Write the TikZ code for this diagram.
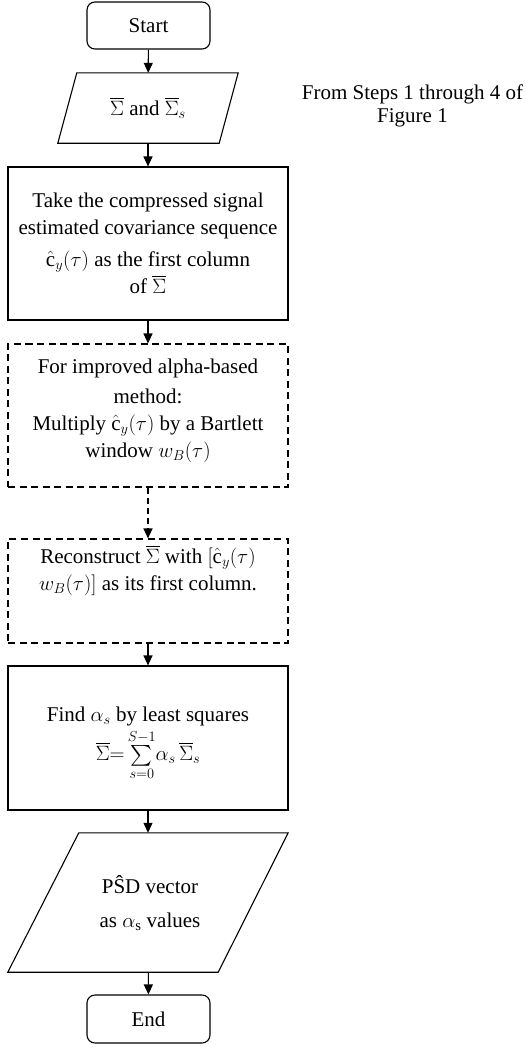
\documentclass[tikz,border=0pt]{standalone}
\usepackage{amsmath}
\usepackage{fontspec}
\setmainfont{Liberation Serif}
\usetikzlibrary{arrows.meta}

\tikzset{
  line/.style={line width=1.1pt},
  term/.style={line, draw, rounded corners=8pt, minimum width=123pt,
    minimum height=47pt, inner sep=0pt},
  procbox/.style={line, draw, minimum width=280pt, inner sep=0pt, align=center},
  dashbox/.style={procbox, dash pattern=on 7pt off 4.5pt},
  iobox/.style={minimum width=#1, inner sep=0pt, align=center},
  flow/.style={line, -{Triangle[length=10pt,width=9pt]}},
  txt/.style={align=center, inner sep=0pt}
}

\begin{document}
\begin{tikzpicture}[x=1pt, y=-1pt,
  every node/.style={font=\fontsize{21}{27}\selectfont}]
  \useasboundingbox (0,0) rectangle (525,1047);

  % terminals
  \node[term] (start) at (148.5,25.5) {Start};
  \node[term, minimum height=48pt] (end) at (148.5,1019) {End};

  % input data
  \node[iobox=180pt, minimum height=70pt] (in) at (148,108)
    {$\overline{\Sigma}$ and $\overline{\Sigma}_s$};
  \draw[line] ([xshift=19pt]in.north west) -- (in.north east)
    -- ([xshift=-19pt]in.south east) -- (in.south west) -- cycle;

  \node[txt, font=\fontsize{21}{23}\selectfont] (note) at (412.5,106)
    {From Steps 1 through 4 of\\Figure 1};

  % covariance column
  \node[procbox, minimum height=153pt] (cov) at (148,243.5)
    {Take the compressed signal\\
     estimated covariance sequence\\[5pt]
     $\hat{\mathrm{c}}_y(\tau)$ as the first column\\
     of $\overline{\Sigma}$};

  % optional windowing
  \node[dashbox, minimum height=143pt] (win) at (148,415.5) {};
  \node[txt] (wintext) at (148,411)
    {For improved alpha-based\\[3pt]
     method:\\
     Multiply $\hat{\mathrm{c}}_y(\tau)$ by a Bartlett\\
     window $w_B(\tau)$};

  \node[dashbox, minimum height=104pt] (rec) at (148,591) {};
  \node[txt] (rectext) at (148,570)
    {Reconstruct $\overline{\Sigma}$ with $[\hat{\mathrm{c}}_y(\tau)$\\
     $w_B(\tau)]$ as its first column.};

  % least squares fit
  \node[procbox, minimum height=144pt] (fit) at (148,738) {};
  \node[txt] (fittext) at (148,744)
    {Find $\alpha_s$ by least squares\\[2pt]
     $\overline{\Sigma}{=}\sum\limits_{s=0}^{S-1}\!\alpha_s\,\overline{\Sigma}_s$};

  % output
  \node[iobox=280pt, minimum height=139pt] (out) at (148,902.5) {};
  \draw[line] ([xshift=71pt]out.north west) -- (out.north east)
    -- ([xshift=-70pt]out.south east) -- (out.south west) -- cycle;
  \node[txt] (outtext) at (150,903)
    {PŜD vector\\[7pt]
     as $\alpha_{\mathrm{s}}$ values};

  % connectors
  \draw[flow] (start) -- (in);
  \draw[flow] (in) -- (cov);
  \draw[flow] (cov) -- (win);
  \draw[flow, dash pattern=on 6pt off 4pt] (win) -- (rec);
  \draw[flow] (rec) -- (fit);
  \draw[flow] (fit) -- (out);
  \draw[flow] (out) -- (end);
\end{tikzpicture}
\end{document}
